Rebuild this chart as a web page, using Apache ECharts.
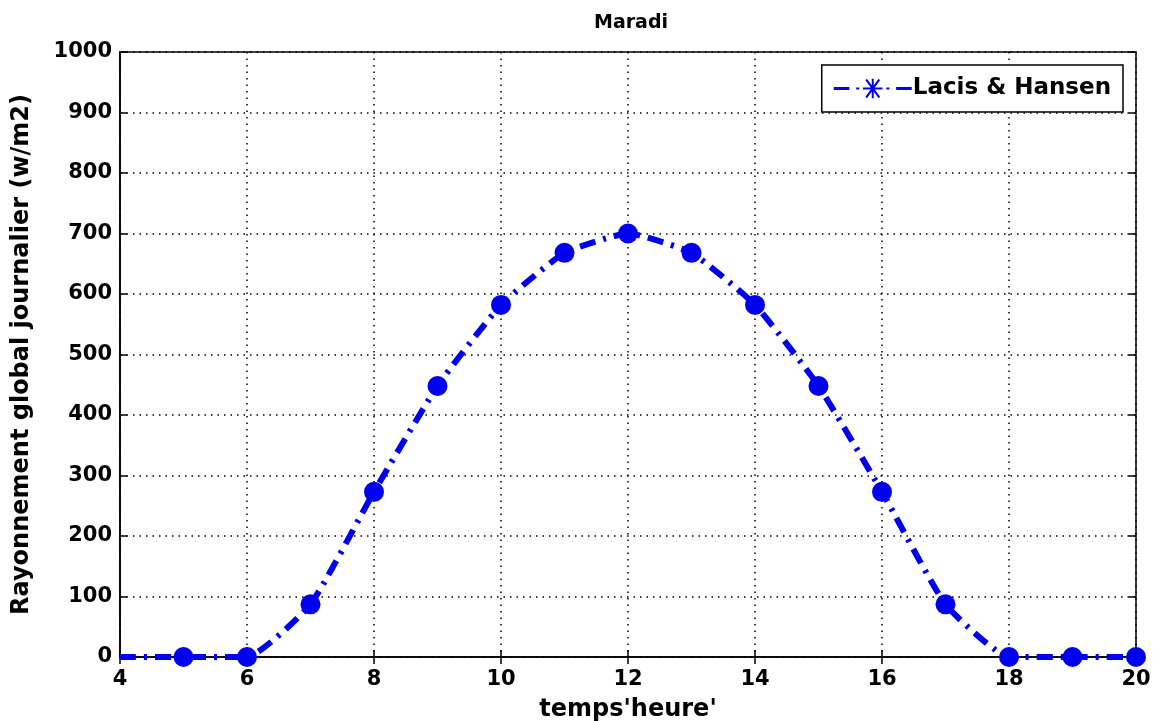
<!DOCTYPE html>
<html>
<head>
<meta charset="utf-8">
<script src="https://cdn.jsdelivr.net/npm/echarts@6/dist/echarts.min.js"></script>
<style>
  html, body { margin: 0; padding: 0; background: #fff; }
  #chart { width: 1153px; height: 722px; }
</style>
</head>
<body>
<div id="chart"></div>
<script>
// Hourly global radiation at Maradi (Lacis & Hansen model)
const hours = [4, 5, 6, 7, 8, 9, 10, 11, 12, 13, 14, 15, 16, 17, 18, 19, 20];
const radiation = [0, 0, 0, 87, 273, 448, 582, 668, 700, 668, 582, 448, 273, 87, 0, 0, 0];
const xTicks = [4, 6, 8, 10, 12, 14, 16, 18, 20];
const yTicks = [0, 100, 200, 300, 400, 500, 600, 700, 800, 900, 1000];

const FONT = '"DejaVu Sans", "Liberation Sans", Arial, sans-serif';
const BLUE = '#0000f0';

// the first sample (x = 4) is drawn without a marker
const seriesData = hours.map((h, i) =>
  i === 0 ? { value: [h, radiation[i]], symbol: 'none' } : { value: [h, radiation[i]] }
);

// legend icon: dash-dot line with an asterisk marker
const legendIcon = 'path://' +
  'M0,8.5L16,8.5L16,11.5L0,11.5Z ' +
  'M23,9L26,9L26,11L23,11Z ' +
  'M39,0L41,0L41,20L39,20Z ' +
  'M30,9L50,9L50,11L30,11Z ' +
  'M32.5,1.5L34,0L47.5,18.5L46,20Z ' +
  'M46,0L47.5,1.5L34,20L32.5,18.5Z ' +
  'M54,9L57,9L57,11L54,11Z ' +
  'M64,8.5L80,8.5L80,11.5L64,11.5Z';

const chart = echarts.init(document.getElementById('chart'));

const gridLine = { show: true, lineStyle: { color: '#000', type: [1.5, 5], width: 1.5 } };
const labelStyle = { fontFamily: FONT, fontWeight: 'bold', fontSize: 21, color: '#000' };

chart.setOption({
  backgroundColor: '#fff',
  animation: false,
  title: {
    text: 'Maradi',
    left: 626, top: 9, textAlign: 'center',
    textStyle: { fontFamily: FONT, fontWeight: 'bold', fontSize: 19, color: '#000' }
  },
  legend: {
    right: 30, top: 65,
    padding: [12, 12, 12, 12],
    backgroundColor: '#fff',
    borderColor: '#000', borderWidth: 1.5, borderRadius: 0,
    itemWidth: 78, itemHeight: 20, itemGap: 4,
    icon: legendIcon,
    itemStyle: { color: BLUE },
    textStyle: { fontFamily: FONT, fontWeight: 'bold', fontSize: 23, color: '#000', padding: [0, 0, 0, -4] },
    data: ['Lacis & Hansen']
  },
  grid: {
    left: 120, right: 17, top: 52, bottom: 65,
    containLabel: false, outerBoundsMode: 'none',
    show: true, borderColor: '#000', borderWidth: 1.5
  },
  xAxis: [{
    type: 'value', min: 4, max: 20, interval: 2,
    name: "temps'heure'", nameLocation: 'middle', nameGap: 41,
    nameTextStyle: { fontFamily: FONT, fontWeight: 'bold', fontSize: 24, color: '#000' },
    axisLine: { show: true, lineStyle: { color: '#000', width: 1.5 } },
    axisTick: { show: true, inside: true, length: 7, lineStyle: { color: '#000', width: 1.5 } },
    axisLabel: Object.assign({ margin: 12, formatter: v => xTicks.includes(v) ? String(v) : '' }, labelStyle),
    splitLine: gridLine
  }, {
    type: 'value', min: 4, max: 20, interval: 2, position: 'top',
    axisLine: { show: false },
    axisTick: { show: true, inside: true, length: 7, lineStyle: { color: '#000', width: 1.5 } },
    axisLabel: { show: false }, splitLine: { show: false }
  }],
  yAxis: [{
    type: 'value', min: 0, max: 1000, interval: 100,
    name: 'Rayonnement global journalier (w/m2)', nameLocation: 'middle', nameGap: 86,
    nameTextStyle: { fontFamily: FONT, fontWeight: 'bold', fontSize: 24, color: '#000' },
    axisLine: { show: true, lineStyle: { color: '#000', width: 1.5 } },
    axisTick: { show: true, inside: true, length: 7, lineStyle: { color: '#000', width: 1.5 } },
    axisLabel: Object.assign({ margin: 8, formatter: v => yTicks.includes(v) ? String(v) : '' }, labelStyle),
    splitLine: gridLine
  }, {
    type: 'value', min: 0, max: 1000, interval: 100, position: 'right',
    axisLine: { show: false },
    axisTick: { show: true, inside: true, length: 7, lineStyle: { color: '#000', width: 1.5 } },
    axisLabel: { show: false }, splitLine: { show: false }
  }],
  series: [{
    name: 'Lacis & Hansen',
    type: 'line',
    data: seriesData,
    smooth: 0.15,
    symbol: 'circle',
    symbolSize: 20,
    itemStyle: { color: BLUE },
    lineStyle: { color: BLUE, width: 6, type: [16, 8, 3, 8] },
    z: 3
  }]
});
</script>
</body>
</html>
